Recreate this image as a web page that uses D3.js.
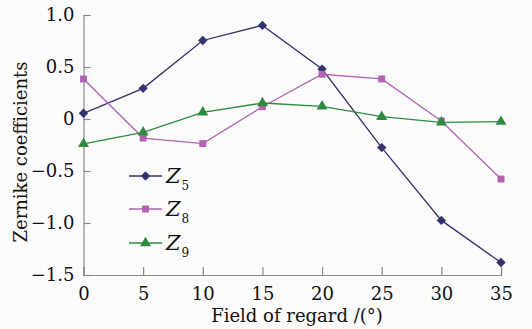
<!DOCTYPE html>
<html>
<head>
<meta charset="utf-8">
<script src="https://cdn.jsdelivr.net/npm/d3@7"></script>
<style>
  body { margin: 0; background: #fbfbfb; }
  svg { display: block; }
  text { font-family: "DejaVu Serif", "Liberation Serif", serif; fill: #111; }
</style>
</head>
<body>
<div id="chart"></div>
<script>
// data
const fields = [0, 5, 10, 15, 20, 25, 30, 35];
const z5 = [0.055, 0.295, 0.755, 0.90, 0.48, -0.275, -0.975, -1.38];
const z8 = [0.385, -0.183, -0.237, 0.118, 0.43, 0.385, -0.02, -0.577];
const z9 = [-0.24, -0.128, 0.064, 0.154, 0.122, 0.022, -0.032, -0.026];
const yTicks = [1.0, 0.5, 0, -0.5, -1.0, -1.5];
const xTicks = [0, 5, 10, 15, 20, 25, 30, 35];

// diamond as a square turned 45 degrees
const diamond = {
  draw(ctx, size) {
    const r = Math.sqrt(size / 2);
    ctx.moveTo(0, -r); ctx.lineTo(r, 0); ctx.lineTo(0, r); ctx.lineTo(-r, 0); ctx.closePath();
  }
};

const series = [
  {name: "5", values: z5, color: "#34326c", symbol: diamond, size: 44},
  {name: "8", values: z8, color: "#b262b3", symbol: d3.symbolSquare, size: 48},
  {name: "9", values: z9, color: "#2f8a40", symbol: d3.symbolTriangle, size: 52}
];

const W = 532, H = 329;
const margin = {top: 15, right: 31, bottom: 54, left: 83.5};
const width = W - margin.left - margin.right;
const height = H - margin.top - margin.bottom;

const svg = d3.select("#chart").append("svg")
    .attr("width", W)
    .attr("height", H);

const g = svg.append("g")
    .attr("transform", `translate(${margin.left},${margin.top})`);

const x = d3.scaleLinear().domain([0, 35]).range([0, width]);
const y = d3.scaleLinear().domain([-1.5, 1.0]).range([height, 0]);

const fmt = d => d === 0 ? "0" : d3.format(".1f")(d).replace("-", "\u2212");

// axes, ticks pointing inward
const xAxis = d3.axisBottom(x).tickValues(xTicks).tickSize(-8).tickPadding(12).tickFormat(d3.format("d"));
const yAxis = d3.axisLeft(y).tickValues(yTicks).tickSize(-7).tickPadding(9).tickFormat(fmt);

const xg = g.append("g").attr("transform", `translate(0,${height})`).call(xAxis);
const yg = g.append("g").call(yAxis);

[xg, yg].forEach(a => {
  a.select(".domain").attr("stroke", "#8a8a8a").attr("stroke-width", 1.2);
  a.selectAll(".tick line").attr("stroke", "#8a8a8a").attr("stroke-width", 1.2);
  a.selectAll(".tick text").style("font-family", '"DejaVu Serif", serif').style("font-size", "18px").attr("fill", "#111");
});

// axis titles
svg.append("text")
    .attr("x", 297).attr("y", 322)
    .attr("text-anchor", "middle")
    .style("font-size", "18px")
    .text("Field of regard /(\u00b0)");

svg.append("text")
    .attr("transform", "translate(27,152) rotate(-90)")
    .attr("text-anchor", "middle")
    .style("font-size", "18px")
    .text("Zernike coefficients");

// lines and markers
const line = d3.line().x((d, i) => x(fields[i])).y(d => y(d));

series.forEach(s => {
  g.append("path")
      .datum(s.values)
      .attr("fill", "none")
      .attr("stroke", s.color)
      .attr("stroke-width", 1.3)
      .attr("d", line);

  g.selectAll(null)
      .data(s.values)
      .enter().append("path")
      .attr("transform", (d, i) => `translate(${x(fields[i])},${y(d)})`)
      .attr("d", d3.symbol().type(s.symbol).size(s.size))
      .attr("fill", s.color);
});

// legend
const legendY = [176, 209, 243];
const leg = svg.append("g");
series.forEach((s, i) => {
  const row = leg.append("g").attr("transform", `translate(129,${legendY[i]})`);
  row.append("line")
      .attr("x1", 0).attr("x2", 33)
      .attr("stroke", s.color).attr("stroke-width", 1.3);
  row.append("path")
      .attr("transform", "translate(16.5,0)")
      .attr("d", d3.symbol().type(s.symbol).size(s.size))
      .attr("fill", s.color);
  const t = row.append("text")
      .attr("x", 37).attr("y", 7)
      .style("font-size", "21px");
  t.append("tspan").style("font-style", "italic").text("Z");
  t.append("tspan").attr("dy", 7).attr("dx", 1).style("font-size", "12px").text(s.name);
});
</script>
</body>
</html>
